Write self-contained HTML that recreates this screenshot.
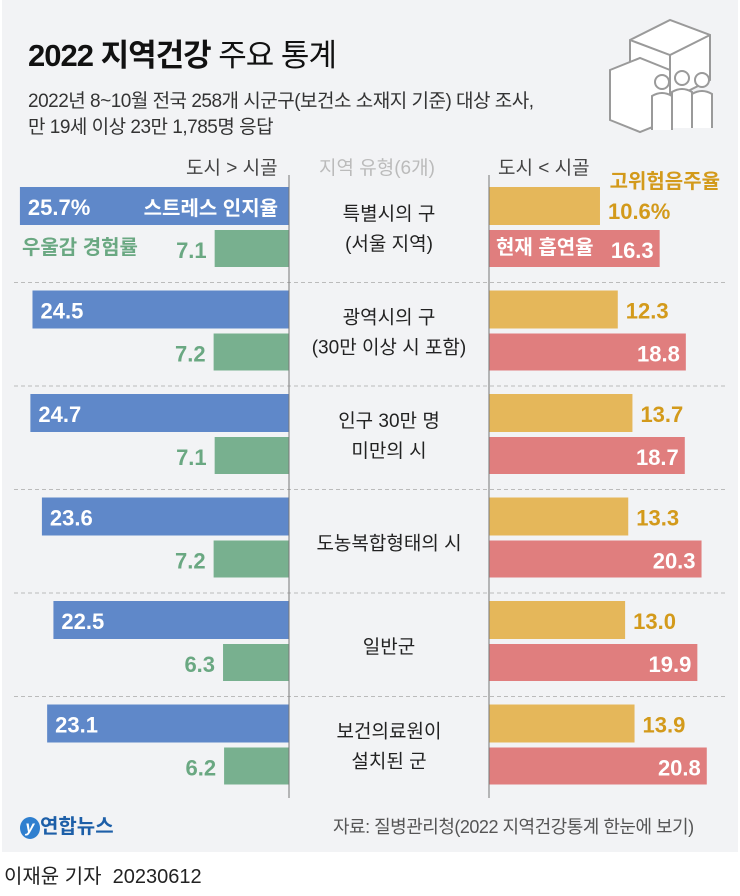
<!DOCTYPE html>
<html><head><meta charset="utf-8">
<style>
body{margin:0;width:740px;height:896px;background:#fff;font-family:"Liberation Sans","Noto Sans CJK KR",sans-serif;overflow:hidden;position:relative}
.panel{position:absolute;left:2px;top:0;width:736px;height:852px;background:#f2f3f5}
.t{position:absolute;white-space:nowrap}
</style></head><body>
<div class="panel"></div>
<div class="t" style="left:28px;top:30px;font-size:31px;color:#111;letter-spacing:-1px"><b>2022 지역건강</b> 주요 통계</div>
<div class="t" style="left:28px;top:89px;font-size:19px;color:#333;line-height:26px;letter-spacing:-0.5px">2022년 8~10월 전국 258개 시군구(보건소 소재지 기준) 대상 조사,<br>만 19세 이상 23만 1,785명 응답</div>
<svg style="position:absolute;left:600px;top:10px" width="130" height="130" viewBox="0 0 130 130">
<g fill="#fff" stroke="#9a9a9a" stroke-width="2">
<path d="M30 30 L70 10 L110 25 L110 70 L70 90 L30 75 Z"/>
<path d="M30 30 L70 45 L110 25 M70 45 L70 90"/>
<path d="M10 60 L40 48 L70 60 L70 110 L40 122 L10 110 Z"/>
<circle cx="62" cy="72" r="7"/><path d="M52 120 L52 86 Q62 80 72 86 L72 120"/>
<circle cx="82" cy="68" r="7"/><path d="M72 118 L72 82 Q82 76 92 82 L92 118"/>
<circle cx="102" cy="70" r="7"/><path d="M92 118 L92 84 Q102 78 112 84 L112 118"/>
</g></svg>
<div class="t" style="left:186px;top:153px;font-size:19px;color:#444">도시 &gt; 시골</div>
<div class="t" style="left:319px;top:153px;font-size:19px;color:#bbb">지역 유형(6개)</div>
<div class="t" style="left:498px;top:153px;font-size:19px;color:#444">도시 &lt; 시골</div>
<svg id="chart" style="position:absolute;left:0;top:0" width="740" height="896"></svg>
<div class="t" style="left:20px;top:810px;font-size:20px;font-weight:bold;color:#1d5fa8"><span style="display:inline-block;width:20px;height:22px;border-radius:50%;background:#2f7fcf;color:#fff;font-style:italic;text-align:center;font-size:16px;line-height:22px;vertical-align:middle">y</span>연합뉴스</div>
<div class="t" style="left:333px;top:813px;font-size:18px;color:#555;letter-spacing:-0.5px">자료: 질병관리청(2022 지역건강통계 한눈에 보기)</div>
<div class="t" style="left:4px;top:860px;font-size:20px;color:#222">이재윤 기자 &nbsp;20230612</div>
<script>
const categories=[["특별시의 구","(서울 지역)"],["광역시의 구","(30만 이상 시 포함)"],["인구 30만 명","미만의 시"],["도농복합형태의 시",""],["일반군",""],["보건의료원이","설치된 군"]];
const stress=[25.7,24.5,24.7,23.6,22.5,23.1];
const depression=[7.1,7.2,7.1,7.2,6.3,6.2];
const drinking=[10.6,12.3,13.7,13.3,13.0,13.9];
const smoking=[16.3,18.8,18.7,20.3,19.9,20.8];
const svg=document.getElementById('chart');const NS='http://www.w3.org/2000/svg';
const LX=289,RX=489,K=10.47,TOP=187,PITCH=103.5;
const xl=v=>LX-v*K, xr=v=>RX+v*K, rowY=i=>TOP+i*PITCH;
function mk(tag,a,txt){const e=document.createElementNS(NS,tag);for(const k in a)e.setAttribute(k,a[k]);if(txt!==undefined)e.textContent=txt;svg.appendChild(e);return e;}
const F='Liberation Sans, Noto Sans CJK KR, sans-serif';
for(let i=1;i<6;i++){const s=mk('line',{x1:14,x2:726,y1:rowY(i)-8,y2:rowY(i)-8,stroke:'#bbb','stroke-dasharray':'4 3'});

}
categories.forEach((c,i)=>{
 const y=rowY(i);
 let r=mk('rect',{x:xl(stress[i]),y:y,width:stress[i]*K,height:38,fill:'#5f88c9'});
 
 
 let t=mk('text',{x:xl(stress[i])+8,y:y+28,'font-size':22,fill:'#fff','font-family':F,'font-weight':'bold'},i==0?stress[i]+'%':stress[i].toFixed(1));
 
 
 r=mk('rect',{x:xl(depression[i]),y:y+43,width:depression[i]*K,height:37,fill:'#78b08f'});
 
 
 t=mk('text',{x:xl(depression[i])-8,y:y+71,'font-size':22,fill:'#6aa882','font-family':F,'font-weight':'bold','text-anchor':'end'},depression[i].toFixed(1));
 
 
 r=mk('rect',{x:RX,y:y,width:drinking[i]*K,height:38,fill:'#e5b75a'});
 
 
 t=mk('text',{x:xr(drinking[i])+8,y:i==0?y+32:y+28,'font-size':22,fill:'#d39a1b','font-family':F,'font-weight':'bold'},i==0?drinking[i]+'%':drinking[i].toFixed(1));
 
 
 r=mk('rect',{x:RX,y:y+43,width:smoking[i]*K,height:37,fill:'#e07e7e'});
 
 
 t=mk('text',{x:xr(smoking[i])-6,y:y+71,'font-size':22,fill:'#fff','font-family':F,'font-weight':'bold','text-anchor':'end'},smoking[i].toFixed(1));
 
 
 const two=c[1]!=='';
 t=mk('text',{x:389,y:two?y+33:y+52,'font-size':19,fill:'#222','font-family':F,'text-anchor':'middle'},c[0]);
 
 
 if(two){t=mk('text',{x:389,y:y+63,'font-size':19,fill:'#222','font-family':F,'text-anchor':'middle'},c[1]);
 
 }
});
let a=mk('line',{x1:LX,x2:LX,y1:175,y2:798,stroke:'#777','stroke-width':1});


a=mk('line',{x1:RX,x2:RX,y1:175,y2:798,stroke:'#777','stroke-width':1});


const legends=[[278,215,'스트레스 인지율','#fff','end'],[22,254,'우울감 경험률','#6aa882','start'],[496,254,'현재 흡연율','#fff','start'],[720,188,'고위험음주율','#d39a1b','end']];
legends.forEach(l=>{const e=mk('text',{x:l[0],y:l[1],'font-size':20,fill:l[3],'font-family':F,'font-weight':'bold','text-anchor':l[4]},l[2]);

});
</script>
</body></html>
